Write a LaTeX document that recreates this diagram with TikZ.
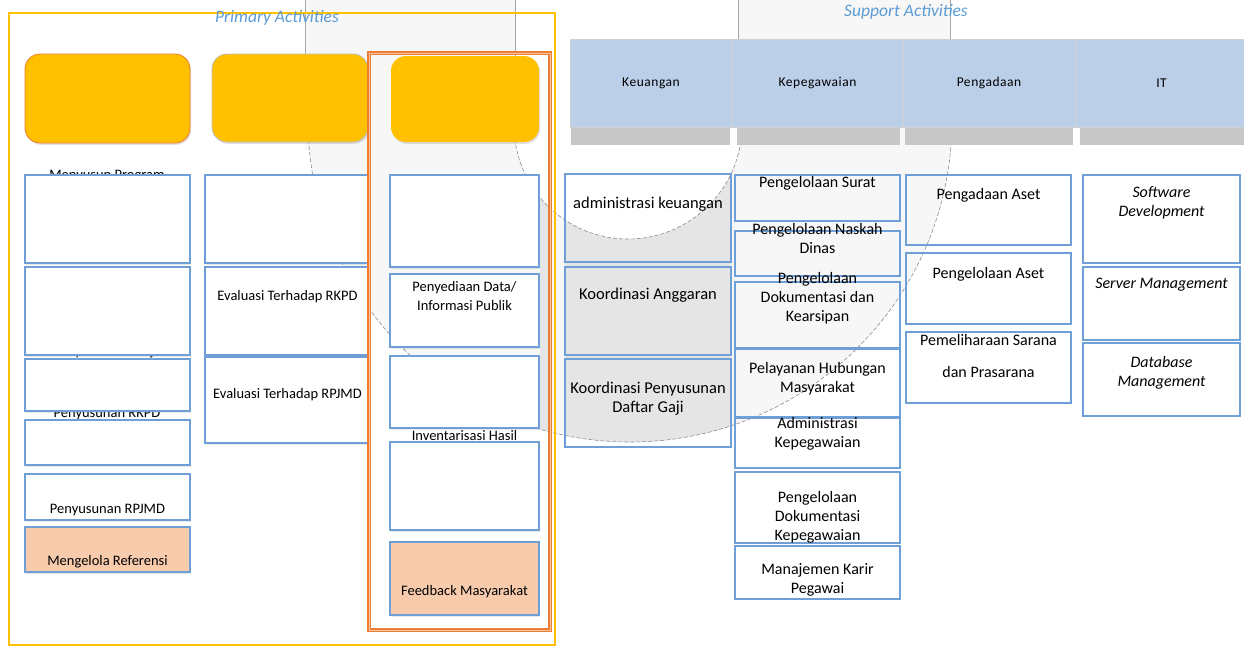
\documentclass[tikz,border=0pt]{standalone}
\usepackage{fontspec}
\setmainfont{Carlito}
\usetikzlibrary{shadows}
\definecolor{yel}{RGB}{255,192,0}
\definecolor{org}{RGB}{237,125,49}
\definecolor{boxblue}{RGB}{110,160,215}
\definecolor{peach}{RGB}{248,203,173}
\definecolor{hdr}{RGB}{188,207,233}
\definecolor{tblue}{RGB}{91,155,213}

\begin{document}
\begin{tikzpicture}[
    x=1pt, y=-1pt,
    inner sep=0pt,
    %
    act/.style={fill=yel, rounded corners=15pt, line width=.8pt,
                drop shadow={shadow xshift=1.2pt, shadow yshift=-1.8pt, opacity=.25}},
    box/.style={draw=boxblue, line width=1.8pt, fill=white,
                drop shadow={shadow xshift=1pt, shadow yshift=-1.5pt, opacity=.18}},
    pbox/.style={box, fill=peach},
    sbox/.style={draw=boxblue, line width=1.8pt},
    head/.style={draw=black!18, line width=.5pt, fill=hdr, minimum height=88pt,
                 font=\fontsize{13.5}{15}\selectfont\addfontfeature{LetterSpace=4}},
    %
    ptxt/.style={font=\fontsize{14.5}{19}\selectfont, align=center},
    stxt/.style={font=\fontsize{16}{19}\selectfont, align=center},
    ktxt/.style={font=\fontsize{16.5}{19}\selectfont, align=center},
    title/.style={font=\fontsize{17.5}{20}\selectfont\itshape, text=tblue},
    rim/.style={draw=black!45, line width=.6pt, dash pattern=on 4pt off 2pt},
    edge/.style={draw=black!35, line width=.8pt}
    ]

    \useasboundingbox (0,0) rectangle (1244,646);

    % lens background
    \fill[black!3] (305,0) rectangle (515,150);
    \fill[black!3] (738,0) rectangle (950,150);
    \begin{scope}
        \clip (0,140) rectangle (1244,646);
        \fill[black!3] (630,120) circle[radius=322pt];
    \end{scope}
    \begin{scope}
        \clip (630,120) circle[radius=322pt];
        \fill[black!10] (565,174) rectangle (731,447);
        \fill[black!10] (540,197) rectangle (549,432);
    \end{scope}
    \begin{scope}
        \clip (400,129) rectangle (800,400);
        \fill[white] (628,125) circle[radius=114pt];
        \draw[rim] (628,125) circle[radius=114pt];
    \end{scope}
    \begin{scope}
        \clip (0,140) rectangle (1244,646);
        \draw[rim] (630,120) circle[radius=322pt];
    \end{scope}
    \draw[edge] (305,0) -- (305,141);
    \draw[edge] (515,0) -- (515,130);
    \draw[edge] (738,0) -- (738,130);
    \draw[edge] (950,0) -- (950,141);

    % primary activities
    \node[draw=yel, line width=2.5pt, minimum width=546pt, minimum height=632pt] (frame) at (282,329) {};
    \node[title] (prim) at (277,18) {Primary Activities};

    \node[act, draw=org, minimum width=165pt, minimum height=89pt] (o1) at (107.5,98.5) {};
    \node[act, draw=black!25, minimum width=156pt, minimum height=88pt] (o2) at (290,98) {};
    \node[act, minimum width=148pt, minimum height=86pt] (o3) at (465,99) {};

    \node[ptxt] (b1-t) at (107,176) {Menyusun Program};
    \node[ptxt] (b2-t) at (107,352) {Penyusunan Renja};
    \node[ptxt] (b3-t) at (107,414) {Penyusunan RKPD};
    \node[ptxt] (d3-t) at (464.5,436) {Inventarisasi Hasil};

    \node[box, minimum width=165pt, minimum height=88pt] (b1) at (107.5,219) {};
    \node[box, minimum width=165pt, minimum height=88pt] (b2) at (107.5,311) {};
    \node[box, minimum width=165pt, minimum height=52pt] (b3) at (107.5,385) {};
    \node[box, minimum width=165pt, minimum height=45pt] (b4) at (107.5,442.5) {};
    \node[box, minimum width=165pt, minimum height=46pt] (b5) at (107.5,497) {};
    \node[pbox, minimum width=165pt, minimum height=45pt] (b6) at (107.5,549.5) {};
    \node[ptxt] (b5-t) at (107.5,510) {Penyusunan RPJMD};
    \node[ptxt] (b6-t) at (107.5,562) {Mengelola Referensi};

    \node[box, minimum width=165pt, minimum height=88pt] (c1) at (287.5,219) {};
    \node[box, minimum width=165pt, minimum height=88pt] (c2) at (287.5,311) {};
    \node[box, minimum width=165pt, minimum height=86pt] (c3) at (287.5,400) {};
    \node[ptxt] (c2-t) at (287.5,297) {Evaluasi Terhadap RKPD};
    \node[ptxt] (c3-t) at (287.5,395) {Evaluasi Terhadap RPJMD};

    \node[box, minimum width=149pt, minimum height=92pt] (d1) at (464.5,221) {};
    \node[box, minimum width=149pt, minimum height=73pt] (d2) at (464.5,310.5) {};
    \node[box, minimum width=149pt, minimum height=72pt] (d3) at (464.5,392) {};
    \node[box, minimum width=149pt, minimum height=88pt] (d4) at (464.5,486) {};
    \node[pbox, minimum width=149pt, minimum height=73pt] (d5) at (464.5,578.5) {};
    \node[ptxt] (d2-t) at (464.5,296.5) {Penyediaan Data/\\Informasi Publik};
    \node[ptxt] (d5-t) at (464.5,592) {Feedback Masyarakat};

    \node[draw=org, line width=1.3pt, double=org!45, double distance=.8pt,
          minimum width=181pt, minimum height=577pt] (focus) at (459.5,341.5) {};

    % support activities
    \node[title] (supp) at (906,12) {Support Activities};

    \fill[black!22] (571,127) rectangle (730,145);
    \fill[black!22] (737,127) rectangle (900,145);
    \fill[black!22] (905,127) rectangle (1073,145);
    \fill[black!22] (1080,127) rectangle (1244,145);

    \node[head, minimum width=162pt] (h1) at (651,83) {Keuangan};
    \node[head, minimum width=171pt] (h2) at (817.5,83) {Kepegawaian};
    \node[head, minimum width=172pt] (h3) at (989,83) {Pengadaan};
    \node[head, minimum width=173pt] (h4) at (1161.5,83) {IT};

    \node[sbox, minimum width=166pt, minimum height=88pt] (k1) at (648,218) {};
    \node[sbox, minimum width=166pt, minimum height=88pt] (k2) at (648,311) {};
    \node[sbox, minimum width=166pt, minimum height=88pt] (k3) at (648,403) {};
    \node[ktxt] (k1-t) at (648,204) {administrasi keuangan};
    \node[ktxt] (k2-t) at (648,295) {Koordinasi Anggaran};
    \node[ktxt] (k3-t) at (648,398.5) {Koordinasi Penyusunan\\Daftar Gaji};

    \node[sbox, minimum width=165pt, minimum height=46pt] (p1) at (817.5,198) {};
    \node[sbox, minimum width=165pt, minimum height=45pt] (p2) at (817.5,253.5) {};
    \node[sbox, minimum width=165pt, minimum height=66pt] (p3) at (817.5,315) {};
    \node[sbox, minimum width=165pt, minimum height=68pt] (p4) at (817.5,383) {};
    \node[sbox, minimum width=165pt, minimum height=50pt] (p5) at (817.5,443) {};
    \node[sbox, minimum width=165pt, minimum height=71pt] (p6) at (817.5,507.5) {};
    \node[sbox, minimum width=165pt, minimum height=53pt] (p7) at (817.5,572.5) {};
    \node[stxt] (p1-t) at (817.5,183) {Pengelolaan Surat};
    \node[stxt] (p2-t) at (817.5,238.5) {Pengelolaan Naskah\\Dinas};
    \node[stxt] (p3-t) at (817.5,298) {Pengelolaan\\Dokumentasi dan\\Kearsipan};
    \node[stxt] (p4-t) at (817.5,379) {Pelayanan Hubungan\\Masyarakat};
    \node[stxt] (p5-t) at (817.5,433.5) {Administrasi\\Kepegawaian};
    \node[stxt] (p6-t) at (817.5,517) {Pengelolaan\\Dokumentasi\\Kepegawaian};
    \node[stxt] (p7-t) at (817.5,580) {Manajemen Karir\\Pegawai};

    \node[sbox, minimum width=165pt, minimum height=70pt] (g1) at (988.5,210) {};
    \node[sbox, minimum width=165pt, minimum height=71pt] (g2) at (988.5,288.5) {};
    \node[sbox, minimum width=165pt, minimum height=71pt] (g3) at (988.5,367.5) {};
    \node[stxt] (g1-t) at (988.5,195) {Pengadaan Aset};
    \node[stxt] (g2-t) at (988.5,274) {Pengelolaan Aset};
    \node[stxt] (g3-t) at (988.5,356) {Pemeliharaan Sarana\\[13pt]dan Prasarana};

    \node[sbox, minimum width=157pt, minimum height=88pt] (i1) at (1161.5,219) {};
    \node[sbox, minimum width=157pt, minimum height=73pt] (i2) at (1161.5,303.5) {};
    \node[sbox, minimum width=157pt, minimum height=73pt] (i3) at (1161.5,379.5) {};
    \node[stxt, font=\fontsize{16}{19}\selectfont\itshape] (i1-t) at (1161.5,203) {Software\\Development};
    \node[stxt, font=\fontsize{16}{19}\selectfont\itshape] (i2-t) at (1161.5,285) {Server Management};
    \node[stxt, font=\fontsize{16}{19}\selectfont\itshape] (i3-t) at (1161.5,373) {Database\\Management};
    %
\end{tikzpicture}
\end{document}
